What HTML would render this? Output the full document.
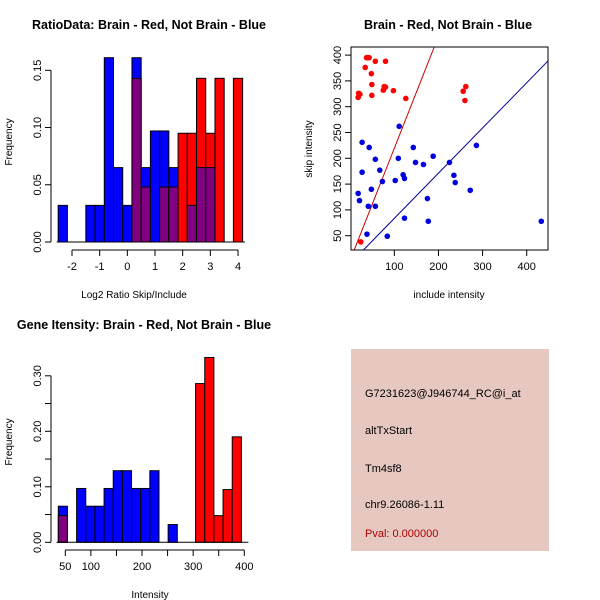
<!DOCTYPE html>
<html><head><meta charset="utf-8"><style>
body{margin:0;background:#fff}
svg{display:block;font-family:"Liberation Sans",sans-serif}
</style></head><body>
<svg id="s" width="600" height="600" xmlns="http://www.w3.org/2000/svg">
<rect width="600" height="600" fill="#fff"/>
<text x="149" y="29" font-size="12.5" font-weight="bold" text-anchor="middle">RatioData: Brain - Red, Not Brain - Blue</text>
<text x="448" y="29" font-size="12.5" font-weight="bold" text-anchor="middle">Brain - Red, Not Brain - Blue</text>
<text x="144" y="329" font-size="12.5" font-weight="bold" text-anchor="middle">Gene Itensity: Brain - Red, Not Brain - Blue</text>
<g id="g1"></g>
<g id="g2"></g>
<g id="g3"></g>
<g>
<rect x="351" y="349" width="198" height="202" fill="#E6C8C0"/>
<text x="365" y="397" font-size="11">G7231623@J946744_RC@i_at</text>
<text x="365" y="434" font-size="11">altTxStart</text>
<text x="365" y="472" font-size="11">Tm4sf8</text>
<text x="365" y="508" font-size="11">chr9.26086-1.11</text>
<text x="365" y="537" font-size="11" fill="#B00000">Pval: 0.000000</text>
</g>
</svg>
<script>
// Histogram 1 data
const h1Blue=[0.032,0,0,0.032,0.032,0.161,0.065,0.032,0.161,0.065,0.097,0.097,0.065,0,0.032,0.065,0.065,0,0,0];
const h1Red=[0,0,0,0,0,0,0,0,0.143,0.048,0,0.048,0.048,0.095,0.095,0.143,0.095,0.143,0,0.143];
const h1Start=-2.5, h1Width=1/3;
const h1XTicks=[-2,-1,0,1,2,3,4];
const h1YTicks=[0,0.05,0.10,0.15];
const h1YLabels=["0.00","0.05","0.10","0.15"];
// Histogram 2 data
const h2Blue=[0.065,0,0.097,0.065,0.065,0.097,0.129,0.129,0.097,0.097,0.129,0,0.032,0,0,0,0,0,0,0];
const h2Red=[0.048,0,0,0,0,0,0,0,0,0,0,0,0,0,0,0.286,0.333,0.048,0.095,0.190];
const h2Start=36.3, h2Width=17.9;
const h2XTicks=[50,100,150,200,250,300,350,400];
const h2XLabels=["50","100","","200","","300","","400"];
const h2YTicks=[0,0.05,0.10,0.15,0.20,0.25,0.30];
const h2YLabels=["0.00","","0.10","","0.20","","0.30"];
// Scatter data
const redX=[19,22,18,34,37,43,40,48,57,80,49,49,75,77,80,98,126,24,256,262,260];
const redY=[326,324,318,376,395,395,395,364,388,388,343,322,332,339,338,331,316,38,330,339,312];
const blueX=[111,27,43,57,67,27,18,21,48,41,57,38,84,73,102,109,120,123,123,143,148,166,188,175,177,225,235,238,272,286,433];
const blueY=[262,231,221,198,177,173,132,118,140,107,107,53,49,155,157,200,168,161,84,221,192,188,204,122,78,192,167,153,138,225,78];
const redLine=[2.5,2.17];
const blueLine=[-4,0.876];
const scXTicks=[100,200,300,400];
const scYTicks=[50,100,150,200,250,300,350,400];

const NS="http://www.w3.org/2000/svg";
function mk(p,t,a){const e=document.createElementNS(NS,t);for(const k in a)e.setAttribute(k,a[k]);p.appendChild(e);return e;}

function hist(g,blue,red,start,w,sx,sy,y0){
  for(let i=0;i<blue.length;i++){
    const x1=sx(start+i*w),x2=sx(start+(i+1)*w);
    const b=blue[i],r=red[i];
    const hi=Math.max(b,r),lo=Math.min(b,r);
    if(hi>0){
      const e=mk(g,'rect',{x:x1,y:sy(hi),width:x2-x1,height:y0-sy(hi),fill:b>=r?'#0000FF':'#FF0000',stroke:'#000','stroke-width':1});
      
      
    }
    if(lo>0){
      const e=mk(g,'rect',{x:x1,y:sy(lo),width:x2-x1,height:y0-sy(lo),fill:'#800080',stroke:'#000','stroke-width':1});
      
      
    }
  }
}
function yaxis(g,x,ticks,labels,sy){
  mk(g,'line',{x1:x,x2:x,y1:sy(ticks[0]),y2:sy(ticks[ticks.length-1]),stroke:'#000'});
  ticks.forEach((t,i)=>{const y=sy(t);mk(g,'line',{x1:x-6,x2:x,y1:y,y2:y,stroke:'#000'});
    if(labels[i]!==""){const e=mk(g,'text',{x:x-10,y:y,'font-size':11,'text-anchor':'middle',transform:`rotate(-90 ${x-10} ${y})`});e.textContent=labels[i];
    
    }});
}
function xaxis(g,y,ticks,labels,sx){
  mk(g,'line',{x1:sx(ticks[0]),x2:sx(ticks[ticks.length-1]),y1:y,y2:y,stroke:'#000'});
  ticks.forEach((t,i)=>{const x=sx(t);mk(g,'line',{x1:x,x2:x,y1:y,y2:y+6,stroke:'#000'});
    if(labels[i]!==""){const e=mk(g,'text',{x:x,y:y+20,'font-size':11,'text-anchor':'middle'});e.textContent=labels[i];
    
    }});
}
function label(g,x,y,txt,rot,name){
  const e=mk(g,'text',{x:x,y:y,'font-size':10,'text-anchor':'middle'});
  if(rot)e.setAttribute('transform',`rotate(-90 ${x} ${y})`);
  e.textContent=txt;
  
  
}
// Panel 1
{const g=document.getElementById('g1');
 const sx=v=>72+(v+2)*27.67, sy=v=>242-v*(242-70.3)/0.15;
 hist(g,h1Blue,h1Red,h1Start,h1Width,sx,sy,242);
 mk(g,'line',{x1:sx(-2.55),x2:sx(4.25),y1:242,y2:242,stroke:'#000'});
 xaxis(g,250,h1XTicks,h1XTicks.map(String),sx);
 yaxis(g,51,h1YTicks,h1YLabels,sy);
 label(g,134,298,'Log2 Ratio Skip/Include',false,'x-axis-title');
 label(g,12,142,'Frequency',true,'y-axis-title');}
// Panel 3
{const g=document.getElementById('g3');
 const sx=v=>65.3+(v-50)*0.5114, sy=v=>542.3-v*555;
 hist(g,h2Blue,h2Red,h2Start,h2Width,sx,sy,542.3);
 mk(g,'line',{x1:sx(33),x2:sx(408),y1:542.3,y2:542.3,stroke:'#000'});
 xaxis(g,550,h2XTicks,h2XLabels,sx);
 yaxis(g,51,h2YTicks,h2YLabels,sy);
 label(g,150,598,'Intensity',false,'x-axis-title');
 label(g,12,442,'Frequency',true,'y-axis-title');}
// Panel 2
{const g=document.getElementById('g2');
 const sx=v=>350.2+v*0.4413, sy=v=>235.7-(v-50)*0.516;
 const cp=mk(g,'clipPath',{id:'cp'});mk(cp,'rect',{x:351,y:47,width:197,height:203});
 const lg=mk(g,'g',{'clip-path':'url(#cp)'});
 const l1=mk(lg,'line',{x1:sx(0),y1:sy(redLine[0]),x2:sx(450),y2:sy(redLine[0]+redLine[1]*450),stroke:'#CC0000','stroke-width':1});
 
 
 const l2=mk(lg,'line',{x1:sx(0),y1:sy(blueLine[0]),x2:sx(460),y2:sy(blueLine[0]+blueLine[1]*460),stroke:'#000099','stroke-width':1});
 
 
 redX.forEach((x,i)=>{const c=mk(g,'circle',{cx:sx(x),cy:sy(redY[i]),r:2.8,fill:'#FF0000'});
  
  });
 blueX.forEach((x,i)=>{const c=mk(g,'circle',{cx:sx(x),cy:sy(blueY[i]),r:2.8,fill:'#0000DD'});
  
  });
 mk(g,'rect',{x:351,y:47,width:197,height:203,fill:'none',stroke:'#000'});
 scXTicks.forEach(t=>{const x=sx(t);mk(g,'line',{x1:x,x2:x,y1:250,y2:256,stroke:'#000'});
  const e=mk(g,'text',{x:x,y:270,'font-size':11,'text-anchor':'middle'});e.textContent=t;
  
  });
 scYTicks.forEach(t=>{const y=sy(t);mk(g,'line',{x1:345,x2:351,y1:y,y2:y,stroke:'#000'});
  const e=mk(g,'text',{x:341,y:y,'font-size':11,'text-anchor':'middle',transform:`rotate(-90 341 ${y})`});e.textContent=t;
  
  });
 label(g,449,298,'include intensity',false,'x-axis-title');
 label(g,312,149,'skip intensity',true,'y-axis-title');}
</script>
</body></html>
